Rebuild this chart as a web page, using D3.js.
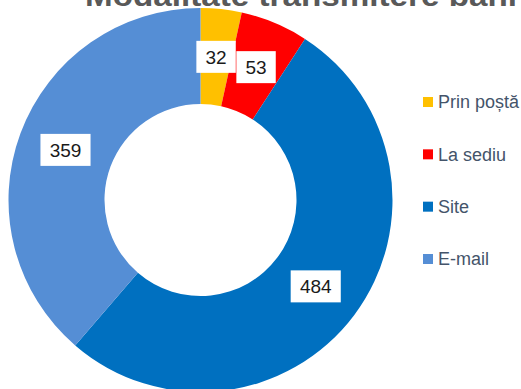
<!DOCTYPE html>
<html><head><meta charset="utf-8">
<script src="https://cdn.jsdelivr.net/npm/d3@7"></script>
<style>body{margin:0;background:#fff;}svg{display:block;}</style>
</head><body>
<svg id="c" width="521" height="389"></svg>
<script>
const title = "Modalitate transmitere bani";
const categories = ["Prin poștă", "La sediu", "Site", "E-mail"];
const values = [32, 53, 484, 359];
const colors = ["#FFC000", "#FF0000", "#0070C0", "#558ED5"];

const svg = d3.select("#c");
const cx = 200.5, cy = 200, R = 192, r = 96;

svg.append("text").attr("x", 85).attr("y", 5.7)
  .attr("font-family", "Liberation Sans, Arial, sans-serif").attr("font-weight", "bold")
  .attr("font-size", 30).attr("fill", "#595959")
  .attr("textLength", 432).attr("lengthAdjust", "spacingAndGlyphs")
  .text(title);

const pie = d3.pie().sort(null).value(d => d)(values);
const arc = d3.arc().innerRadius(r).outerRadius(R);
const labelArc = d3.arc().innerRadius((r + R) / 2).outerRadius((r + R) / 2);
const g = svg.append("g").attr("transform", `translate(${cx},${cy})`);
g.selectAll("path").data(pie).join("path")
  .attr("d", arc).attr("fill", (d, i) => colors[i]);

const lab = g.selectAll("g.lab").data(pie).join("g").attr("class", "lab")
  .attr("transform", d => `translate(${labelArc.centroid(d)})`);
lab.append("rect")
  .attr("x", d => -(String(d.data).length * 10.7 + 18) / 2)
  .attr("width", d => String(d.data).length * 10.7 + 18)
  .attr("y", -16).attr("height", 32).attr("fill", "#fff");
lab.append("text").attr("text-anchor", "middle").attr("dy", "0.36em")
  .attr("font-family", "Liberation Sans, Arial, sans-serif").attr("font-size", 19)
  .attr("fill", "#1a1a1a").text(d => d.data);

const y = d3.scalePoint().domain(categories).range([102, 259]);
const leg = svg.append("g");
const items = leg.selectAll("g").data(categories).join("g")
  .attr("transform", d => `translate(423,${y(d)})`);
items.append("rect").attr("x", 0).attr("y", -5).attr("width", 10).attr("height", 10)
  .attr("fill", (d, i) => colors[i]);
items.append("text").attr("x", 15).attr("dy", "0.36em")
  .attr("font-family", "Liberation Sans, Arial, sans-serif").attr("font-size", 18)
  .attr("fill", "#44546A").text(d => d);
</script>
</body></html>
